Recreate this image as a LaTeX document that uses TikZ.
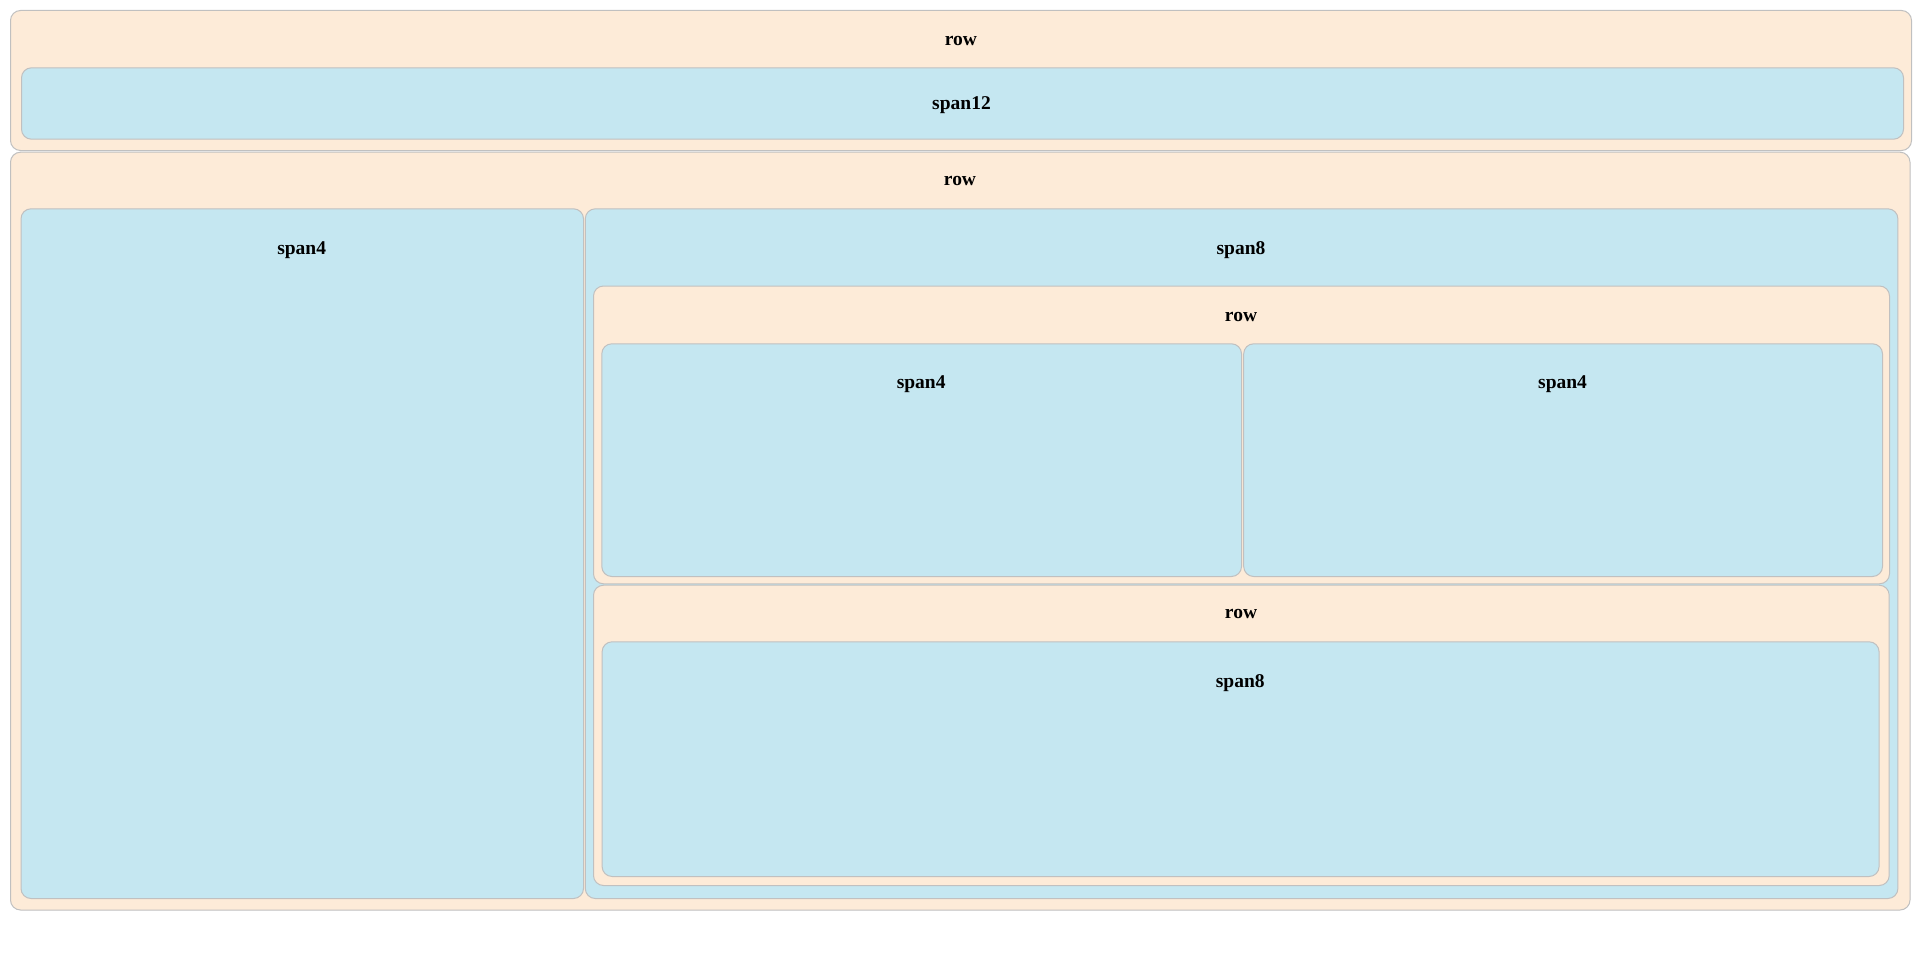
\documentclass[tikz,border=0pt]{standalone}
\usepackage{fontspec}
\setmainfont{Liberation Serif}
\definecolor{peach}{RGB}{253,235,216}
\definecolor{skyb}{RGB}{197,231,241}
\definecolor{edge}{RGB}{192,192,192}
\tikzset{
  box/.style={draw=edge, line width=1pt, rounded corners=10pt, inner sep=0pt, anchor=north west},
  rowbox/.style={box, fill=peach},
  spanbox/.style={box, fill=skyb},
  lbl/.style={anchor=base, inner sep=0pt, font=\fontsize{19.5}{23}\selectfont\bfseries}
}
\newcommand{\bx}[6]{\node[#1, minimum width=#5pt-#3pt, minimum height=#6pt-#4pt] (#2) at (#3,#4) {};}
\begin{document}
\begin{tikzpicture}[x=1pt,y=-1pt]
\fill[white] (0,0) rectangle (1920,966);
\useasboundingbox (0,0) rectangle (1920,966);
% boxes
\bx{rowbox}{rowA}{10}{10}{1911}{150}
\bx{spanbox}{spanA}{21}{67.3}{1903}{138.7}
\bx{rowbox}{rowB}{10}{151.7}{1909.5}{909.5}
\bx{spanbox}{spanL}{20.5}{208.3}{583}{898}
\bx{spanbox}{spanR}{584.8}{208.3}{1897.4}{898}
\bx{rowbox}{rowC}{593}{285.5}{1889}{583.3}
\bx{spanbox}{spanCa}{601.3}{343.3}{1241}{576}
\bx{spanbox}{spanCb}{1243.2}{343.3}{1882}{576}
\bx{rowbox}{rowD}{593}{584.7}{1888.7}{885}
\bx{spanbox}{spanD}{601.6}{641.3}{1878.6}{876}
% labels
\node[lbl] (lrowA) at (961,46) {row};
\node[lbl] (lspanA) at (961.5,110) {span12};
\node[lbl] (lrowB) at (960,185.7) {row};
\node[lbl] (lspanL) at (301.7,254.5) {span4};
\node[lbl] (lspanR) at (1241,254.5) {span8};
\node[lbl] (lrowC) at (1241,321) {row};
\node[lbl] (lspanCa) at (921.2,388.3) {span4};
\node[lbl] (lspanCb) at (1562.6,388.3) {span4};
\node[lbl] (lrowD) at (1241,618.6) {row};
\node[lbl] (lspanD) at (1240.2,687) {span8};
\end{tikzpicture}
\end{document}
